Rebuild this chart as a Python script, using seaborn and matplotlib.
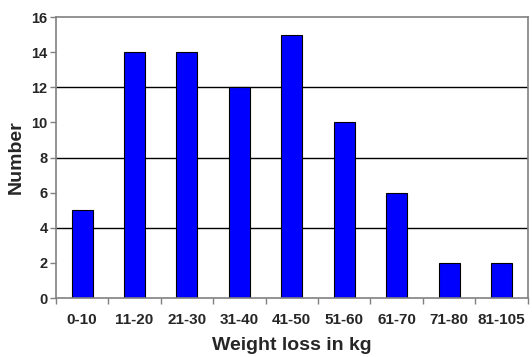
import matplotlib
matplotlib.use("Agg")
import matplotlib.pyplot as plt
import seaborn as sns
import pandas as pd
import numpy as np

categories = ["0-10", "11-20", "21-30", "31-40", "41-50", "51-60", "61-70", "71-80", "81-105"]
counts = [5, 14, 14, 12, 15, 10, 6, 2, 2]
yticks = [0, 2, 4, 6, 8, 10, 12, 14, 16]
gridlines = [4, 8, 12]

sns.set_style("white")
plt.rcParams['font.family'] = ['Liberation Sans', 'DejaVu Sans']

df = pd.DataFrame({"cat": categories, "n": counts})

fig = plt.figure(figsize=(5.32, 3.57), dpi=100)
ax = fig.add_axes([0.105, 0.165, 0.887, 0.787])

for g in gridlines:
    ax.axhline(g, color="black", lw=1, zorder=0)

sns.barplot(data=df, x="cat", y="n", color="#0000FF", edgecolor="black",
            linewidth=0.8, width=0.4, saturation=1, ax=ax, zorder=2)

ax.set_ylim(0, 16)
ax.set_xlim(-0.5, len(categories) - 0.5)
ax.set_yticks(yticks)
ax.set_yticklabels([str(v) for v in yticks], fontsize=10.5, fontweight="bold")
ax.set_xticks(np.arange(len(categories)))
ax.set_xticklabels(categories, fontsize=11, fontweight="bold")
ax.tick_params(axis="x", length=0, pad=11)
ax.tick_params(axis="y", length=4, color="#808080", width=1, pad=2, left=True)
ax.set_xticks(np.arange(len(categories) + 1) - 0.5, minor=True)
ax.tick_params(axis="x", which="minor", length=4, color="#808080", width=1, bottom=True)

for s in ax.spines.values():
    s.set_visible(True)
    s.set_color("#808080")
    s.set_linewidth(1.2)

ax.set_xlabel("Weight loss in kg", fontsize=14, fontweight="bold", labelpad=7)
ax.set_ylabel("Number", fontsize=14, fontweight="bold", labelpad=5)

fig.savefig("out.png", dpi=100)
